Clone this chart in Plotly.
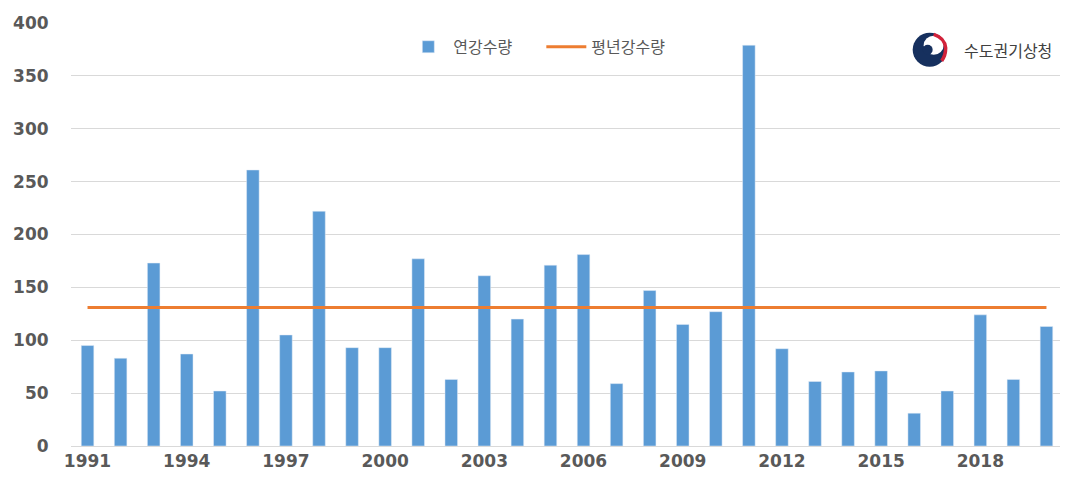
import plotly.graph_objects as go

years = list(range(1991, 2021))
annual_rain = [95, 83, 173, 87, 52, 261, 105, 222, 93, 93,
               177, 63, 161, 120, 171, 181, 59, 147, 115, 127,
               379, 92, 61, 70, 71, 31, 52, 124, 63, 113]
normal_rain = 131
tick_years = [1991, 1994, 1997, 2000, 2003, 2006, 2009, 2012, 2015, 2018]

fig = go.Figure()
fig.add_trace(go.Bar(x=years, y=annual_rain, name="연강수량",
                     marker_color="#5b9bd5", width=0.38))
fig.add_trace(go.Scatter(x=years, y=[normal_rain] * len(years), name="평년강수량",
                         mode="lines", line=dict(color="#ed7d31", width=3)))

# logo (pixel-sized shapes anchored in paper coords)
cx = (929 - 66) / 997
cy = (445.7 - 47) / 425.7
logo = dict(xref="paper", yref="paper", xsizemode="pixel", ysizemode="pixel",
            xanchor=cx, yanchor=cy, layer="above")
fig.add_shape(type="circle", x0=-17, y0=-17, x1=17, y1=17, fillcolor="#16305e",
              line_width=0, **logo)
fig.add_shape(type="circle", x0=-6, y0=-5, x1=14, y1=14, fillcolor="white",
              line_width=0, **logo)
fig.add_shape(type="circle", x0=-7, y0=-5, x1=3, y1=5, fillcolor="#16305e",
              line_width=0, **logo)
fig.add_shape(type="path", path="M 4,15.5 Q 15,12 16,2 Q 16,-6 12,-11",
              line=dict(color="#d2223a", width=3.5), fillcolor="rgba(0,0,0,0)", **logo)

fig.add_annotation(text="수도권기상청", xref="paper", yref="paper",
                   x=(961 - 66) / 997, y=cy, xanchor="left", yanchor="middle",
                   showarrow=False,
                   font=dict(family="Noto Sans CJK KR", size=16, color="#404040"))

fig.update_layout(
    width=1060, height=473,
    margin=dict(l=58, r=5, t=12, b=35),
    paper_bgcolor="white", plot_bgcolor="white",
    font=dict(family="Noto Sans CJK KR", color="#595959"),
    showlegend=True,
    legend=dict(orientation="h", x=(400 - 66) / 997, y=(445.7 - 44) / 425.7,
                xanchor="left", yanchor="middle", bgcolor="rgba(0,0,0,0)",
                entrywidth=83, entrywidthmode="pixels", itemwidth=40,
                font=dict(family="Noto Sans CJK KR", size=16, color="#595959")),
)
fig.update_xaxes(range=[1990.5, 2020.5], tickvals=tick_years, showgrid=False,
                 zeroline=False, showline=False, ticks="outside", ticklen=0,
                 tickfont=dict(family="DejaVu Sans", size=17, color="#595959", weight="bold"))
fig.update_yaxes(range=[0, 400], dtick=50, showgrid=True, gridcolor="#d9d9d9",
                 gridwidth=1, zeroline=True, zerolinecolor="#d9d9d9", zerolinewidth=1,
                 ticks="outside", ticklen=0, ticklabelstandoff=18,
                 tickfont=dict(family="DejaVu Sans", size=17, color="#595959", weight="bold"))

fig.write_html("out.html")
